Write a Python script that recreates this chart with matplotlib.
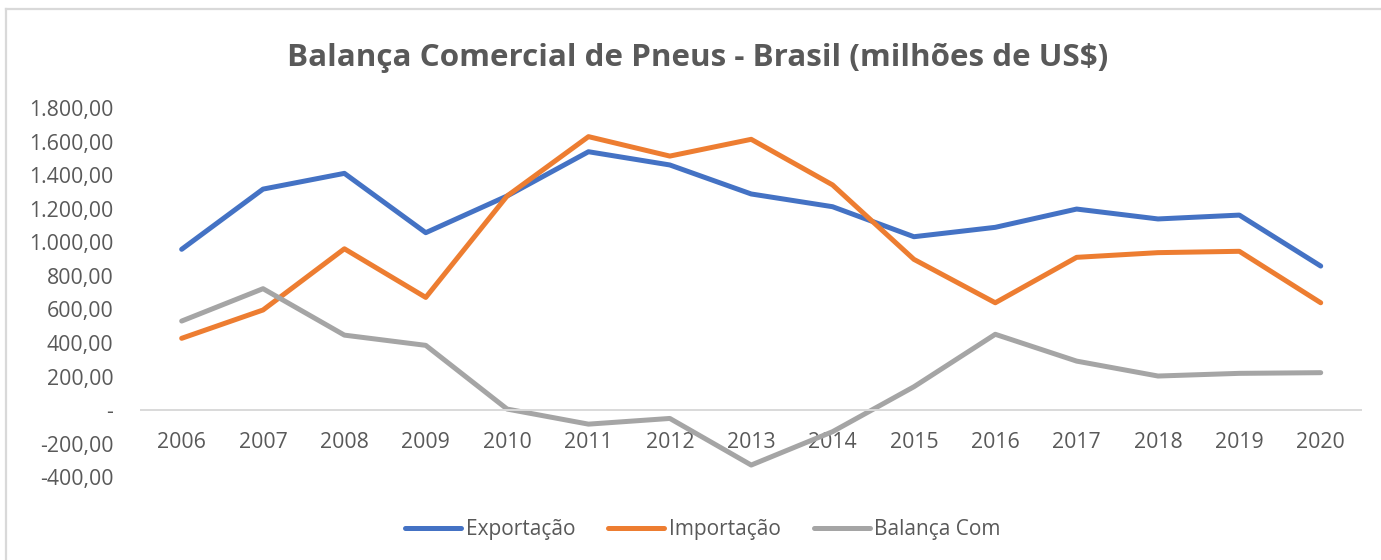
import matplotlib
matplotlib.use('Agg')
import matplotlib.pyplot as plt
from matplotlib.ticker import FuncFormatter, MultipleLocator
from matplotlib.lines import Line2D

plt.rcParams['font.family'] = ['Open Sans', 'DejaVu Sans']

# data (milhões de US$)
anos = ['2006', '2007', '2008', '2009', '2010', '2011', '2012', '2013',
        '2014', '2015', '2016', '2017', '2018', '2019', '2020']
exportacao = [959, 1318, 1412, 1058, 1277, 1541, 1462, 1289,
              1213, 1034, 1090, 1199, 1140, 1163, 859]
importacao = [428, 597, 962, 672, 1277, 1631, 1515, 1615,
              1343, 899, 640, 911, 939, 947, 640]
balanca = [531, 724, 447, 386, 6, -84, -50, -328,
           -129, 139, 452, 292, 203, 219, 223]

txt = '#595959'


def fmt_br(v, pos):
    # Excel style: 1.800,00 and "-" for zero
    if abs(v) < 1e-9:
        return '-'
    s = '{:,.2f}'.format(v)
    return s.replace(',', 'X').replace('.', ',').replace('X', '.')


fig = plt.figure(figsize=(13.81, 5.6), dpi=100)
ax = fig.add_axes([0.1021, 0.148, 0.8837, 0.6586])

x = range(len(anos))
ax.plot(x, exportacao, color='#4472C4', lw=3.6, solid_capstyle='round',
        solid_joinstyle='round', label='Exportação')
ax.plot(x, importacao, color='#ED7D31', lw=3.6, solid_capstyle='round',
        solid_joinstyle='round', label='Importação')
ax.plot(x, balanca, color='#A5A5A5', lw=3.6, solid_capstyle='round',
        solid_joinstyle='round', label='Balança Com')

ax.set_xlim(-0.5, len(anos) - 0.5)
ax.set_ylim(-400, 1800)
ax.yaxis.set_major_locator(MultipleLocator(200))
ax.yaxis.set_major_formatter(FuncFormatter(fmt_br))
ax.set_xticks(list(x))
ax.set_xticklabels(anos)

for s in ['top', 'right', 'left']:
    ax.spines[s].set_visible(False)
ax.spines['bottom'].set_position(('data', 0))
ax.spines['bottom'].set_color('#D9D9D9')
ax.spines['bottom'].set_linewidth(1.4)
ax.tick_params(axis='both', length=0, labelsize=15.3, labelcolor=txt)
ax.tick_params(axis='y', pad=20)
ax.tick_params(axis='x', pad=16)

fig.text(0.505, 0.897, 'Balança Comercial de Pneus - Brasil (milhões de US$)',
         ha='center', va='center', fontsize=22.6, fontweight='bold', color=txt)

leg = fig.legend(loc='center', bbox_to_anchor=(0.509, 0.054), ncol=3,
                 frameon=False, fontsize=15, handlelength=2.69,
                 handletextpad=0.22, columnspacing=1.58)
for t in leg.get_texts():
    t.set_color(txt)

# chart area border (top and left only visible)
fig.add_artist(Line2D([0.004, 1.0], [0.984, 0.984], color='#D9D9D9', lw=1.6,
                      transform=fig.transFigure))
fig.add_artist(Line2D([0.0045, 0.0045], [0.0, 0.984], color='#D9D9D9', lw=1.6,
                      transform=fig.transFigure))

fig.savefig('out.png', dpi=100)
